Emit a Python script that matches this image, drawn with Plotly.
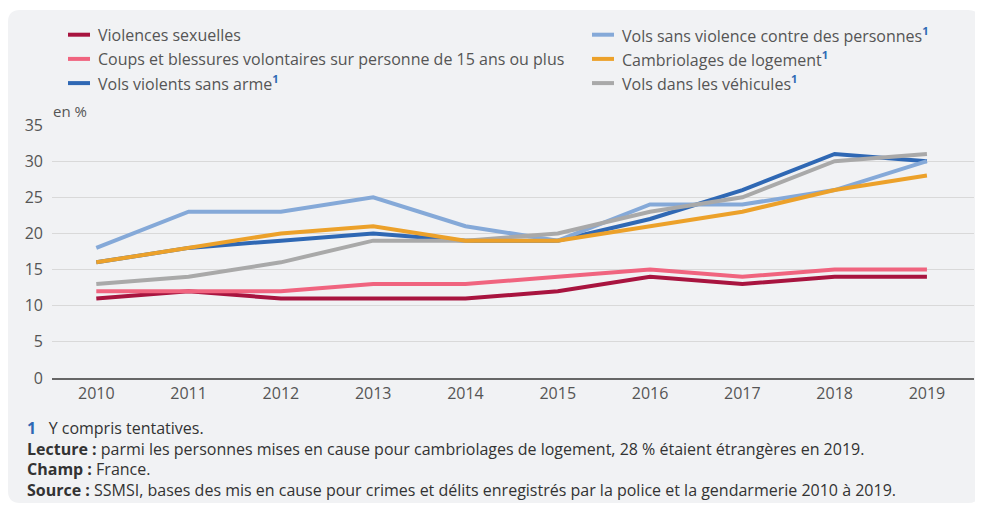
import plotly.graph_objects as go

years = ["2010", "2011", "2012", "2013", "2014", "2015", "2016", "2017", "2018", "2019"]
violences_sexuelles = [11, 12, 11, 11, 11, 12, 14, 13, 14, 14]
coups_blessures = [12, 12, 12, 13, 13, 14, 15, 14, 15, 15]
vols_violents = [16, 18, 19, 20, 19, 19, 22, 26, 31, 30]
vols_sans_violence = [18, 23, 23, 25, 21, 19, 24, 24, 26, 30]
vols_vehicules = [13, 14, 16, 19, 19, 20, 23, 25, 30, 31]
cambriolages = [16, 18, 20, 21, 19, 19, 21, 23, 26, 28]
y_ticks = [0, 5, 10, 15, 20, 25, 30, 35]

SUP = "<sup><b><span style='color:#2f6ab5'>1</span></b></sup>"
series = [
    ("Violences sexuelles", violences_sexuelles, "#a8143f"),
    ("Coups et blessures volontaires sur personne de 15 ans ou plus", coups_blessures, "#f0647f"),
    ("Vols violents sans arme" + SUP, vols_violents, "#2f68b4"),
    ("Vols sans violence contre des personnes" + SUP, vols_sans_violence, "#85a9d8"),
    ("Vols dans les véhicules" + SUP, vols_vehicules, "#a9a9a9"),
    ("Cambriolages de logement" + SUP, cambriolages, "#eca12a"),
]
legend_pos = {
    0: (0, 0), 1: (0, 1), 2: (0, 2), 3: (1, 0), 5: (1, 1), 4: (1, 2),
}

# page body has an 8px margin: figure coordinates = screen coordinates - 8
OFF = 8
W, H = 983 - OFF, 511 - OFF
L, R, T, B = 52 - OFF, 9, 125 - OFF, 133
PW, PH = W - L - R, H - T - B

def px(x):
    return (x - OFF - L) / PW

def py(y):
    return (H - B - (y - OFF)) / PH

FONT = "Open Sans"
TXT = "#555555"

fig = go.Figure()
for name, vals, col in series:
    fig.add_trace(go.Scatter(x=years, y=vals, mode="lines", name=name,
                             line=dict(color=col, width=4), showlegend=False,
                             hoverinfo="x+y"))

shapes = []
# background panel with rounded corners
x0, x1, y0, y1, r = 8, 980, 10, 503, 12
rx, ry = r / PW, r / PH
X0, X1, Y0, Y1 = px(x0), px(x1), py(y0), py(y1)
path = (f"M {X0+rx},{Y0} L {X1-rx},{Y0} Q {X1},{Y0} {X1},{Y0-ry} "
        f"L {X1},{Y1+ry} Q {X1},{Y1} {X1-rx},{Y1} L {X0+rx},{Y1} "
        f"Q {X0},{Y1} {X0},{Y1+ry} L {X0},{Y0-ry} Q {X0},{Y0} {X0+rx},{Y0} Z")
shapes.append(dict(type="path", path=path, xref="paper", yref="paper",
                   fillcolor="#f1f2f4", line=dict(width=0), layer="below"))

annotations = []
for i, (name, vals, col) in enumerate(series):
    c, rr = legend_pos[i]
    lx = 68 if c == 0 else 592
    ly = 34.7 + rr * 24.2
    shapes.append(dict(type="line", xref="paper", yref="paper",
                       x0=px(lx), x1=px(lx + 22), y0=py(ly), y1=py(ly),
                       line=dict(color=col, width=4)))
    annotations.append(dict(text=name, xref="paper", yref="paper",
                            x=px(lx + 28), y=py(ly), xanchor="left", yanchor="middle",
                            showarrow=False, font=dict(family=FONT, size=16, color=TXT)))

annotations.append(dict(text="en %", xref="paper", yref="paper", x=px(51), y=py(111),
                        xanchor="left", yanchor="middle", showarrow=False,
                        font=dict(family=FONT, size=15, color=TXT)))

NB = "\u00a0"
foot = [
    (428, "<b><span style='color:#2f68b4'>1</span></b>" + NB * 3 + "Y compris tentatives."),
    (449, "<b>Lecture :</b> parmi les personnes mises en cause pour cambriolages de logement, 28 % étaient étrangères en 2019."),
    (469, "<b>Champ :</b> France."),
    (490, "<b>Source :</b> SSMSI, bases des mis en cause pour crimes et délits enregistrés par la police et la gendarmerie 2010 à 2019."),
]
for yy, t in foot:
    annotations.append(dict(text=t, xref="paper", yref="paper", x=px(25), y=py(yy),
                            xanchor="left", yanchor="middle", showarrow=False,
                            font=dict(family=FONT, size=16, color="#333333")))

fig.update_layout(
    width=W, height=H,
    margin=dict(l=L, r=R, t=T, b=B),
    paper_bgcolor="white", plot_bgcolor="rgba(0,0,0,0)",
    font=dict(family=FONT, size=16, color=TXT),
    shapes=shapes, annotations=annotations, showlegend=False,
    xaxis=dict(type="category", range=[-0.48, 9.51], showgrid=False,
               showline=True, linecolor="#666666", linewidth=1.5,
               ticks="", tickfont=dict(family=FONT, size=16, color=TXT), zeroline=False),
    yaxis=dict(range=[0, 35], tickvals=y_ticks, showgrid=True, gridcolor="#d9d9d9",
               gridwidth=1, zeroline=False, showline=False, ticks="",
               ticklabelstandoff=8,
               tickfont=dict(family=FONT, size=16, color=TXT)),
)

fig.write_html("out.html")
